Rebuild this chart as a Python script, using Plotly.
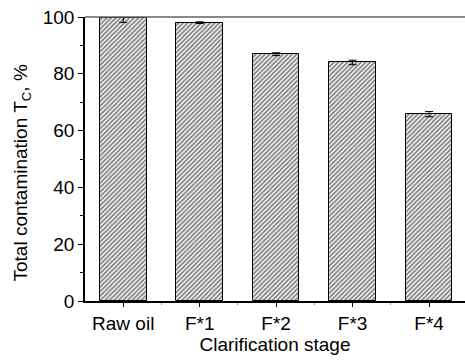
import plotly.graph_objects as go

stages = ["Raw oil", "F*1", "F*2", "F*3", "F*4"]
contamination = [99.6, 98.0, 86.9, 84.0, 65.8]
errors = [1.5, 0.3, 0.5, 0.8, 0.9]
y_ticks = [0, 20, 40, 60, 80, 100]

font = dict(family="Liberation Sans, Arial, sans-serif", size=19, color="black")

fig = go.Figure()
fig.add_trace(go.Bar(
    x=list(range(len(stages))),
    y=contamination,
    width=0.61,
    marker=dict(
        color="white",
        line=dict(color="black", width=1),
        pattern=dict(shape="/", fgcolor="black", bgcolor="white", size=3.2, solidity=0.55),
    ),
    error_y=dict(type="data", array=errors, color="black", thickness=1, width=4),
))

fig.update_layout(
    width=465, height=360,
    margin=dict(l=85, r=0, t=17, b=59),
    plot_bgcolor="white", paper_bgcolor="white",
    font=font,
    showlegend=False,
    bargap=0,
    shapes=[dict(type="line", xref="paper", yref="paper", x0=0, x1=1, y0=1, y1=1,
                 line=dict(color="#606060", width=1.5))],
    annotations=[dict(
        text="Total contamination T<sub>C</sub>, %",
        xref="paper", yref="paper", x=-0.165, y=0.45,
        xanchor="center", yanchor="middle", textangle=-90,
        showarrow=False, font=font,
    )],
)
fig.update_xaxes(
    range=[-0.5, 4.47],
    tickmode="array", tickvals=list(range(len(stages))), ticktext=stages,
    ticks="outside", ticklen=4, tickcolor="black", tickwidth=1,
    minor=dict(tickvals=[0.5, 1.5, 2.5, 3.5], ticks="outside", ticklen=2, tickcolor="#999999"),
    showline=True, linecolor="black", linewidth=1.5,
    showgrid=False, zeroline=False,
    title=dict(text="Clarification stage", standoff=2, font=font),
    tickfont=font,
)
fig.update_yaxes(
    range=[0, 100],
    tickmode="array", tickvals=y_ticks,
    ticks="outside", ticklen=5, tickcolor="black", tickwidth=1,
    minor=dict(tickvals=[10, 30, 50, 70, 90], ticks="outside", ticklen=3, tickcolor="black"),
    showline=True, linecolor="black", linewidth=1.5,
    showgrid=False, zeroline=False,
    tickfont=font,
)

fig.write_html("out.html")
